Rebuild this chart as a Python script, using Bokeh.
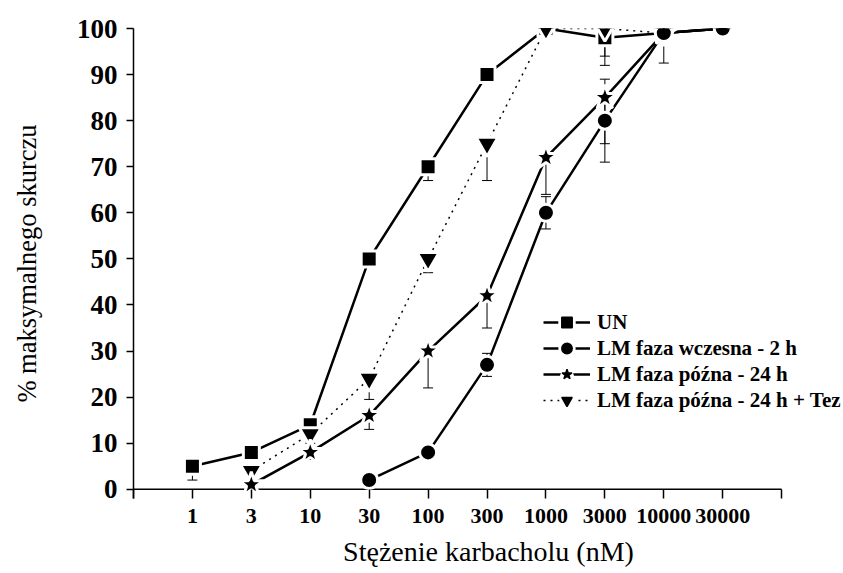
import math
from bokeh.plotting import figure
from bokeh.models import (Range1d, FixedTicker, Whisker, TeeHead, ColumnDataSource,
                          Legend, LegendItem)
from bokeh.embed import file_html
from bokeh.resources import INLINE

NAN = float("nan")

# ---- data ----
categories = ["1", "3", "10", "30", "100", "300", "1000", "3000", "10000", "30000"]
un_vals     = [5, 8, 14, 50, 70, 90, 100, 98, 99, 100]
un_err      = [3, 0, 0, 0, 3, 0, 0, 6, 0, 0]
early_vals  = [NAN, NAN, NAN, 2, 8, 27, 60, 80, 99, 100]
early_err   = [0, 0, 0, 0, 1, 2.5, 3.5, 9, 6.5, 0]
late_vals   = [NAN, 1, 8, 16, 30, 42, 72, 85, 99, 100]
late_err    = [0, 0, 1.5, 3, 8, 7, 8, 10, 0, 0]
tez_vals    = [NAN, 4, 12, 24, 50, 75, 100, 100, 99, 100]
tez_err     = [0, 0, 2, 4.5, 3, 8, 0, 6, 0, 0]
y_ticks = list(range(0, 101, 10))
series_names = ["UN", "LM faza wczesna - 2 h", "LM faza późna - 24 h", "LM faza późna - 24 h + Tez"]

FONT = "Liberation Serif"
n_pos = len(categories) + 1   # last axis position

p = figure(width=843, height=573, output_backend="svg", toolbar_location=None,
           x_range=Range1d(0, 12.05), y_range=Range1d(-2, 100),
           min_border_left=133, min_border_right=0, min_border_top=28, min_border_bottom=75)
p.outline_line_color = None
p.xgrid.visible = False
p.ygrid.visible = False
p.background_fill_color = "white"
p.border_fill_color = "white"

# x axis
xa = p.xaxis[0]
xa.ticker = FixedTicker(ticks=list(range(0, n_pos + 1)))
overrides = {0: "", n_pos: ""}
for i, c in enumerate(categories):
    overrides[i + 1] = c
xa.major_label_overrides = overrides
xa.axis_line_alpha = 0
xa.major_tick_in = 9
xa.major_tick_out = 0
xa.major_tick_line_width = 1.5
xa.major_tick_line_color = "black"
xa.minor_tick_line_color = None
xa.major_label_text_font = FONT
xa.major_label_text_font_style = "bold"
xa.major_label_text_font_size = "22px"
xa.major_label_text_color = "black"
xa.major_label_standoff = 10
xa.axis_label = "Stężenie karbacholu (nM)"
xa.axis_label_text_font = FONT
xa.axis_label_text_font_style = "normal"
xa.axis_label_text_font_size = "28px"
xa.axis_label_text_color = "black"
xa.axis_label_standoff = 10

# y axis
ya = p.yaxis[0]
ya.ticker = FixedTicker(ticks=y_ticks)
ya.axis_line_width = 1.5
ya.axis_line_color = "black"
ya.major_tick_in = 0
ya.major_tick_out = 7
ya.major_tick_line_width = 1.5
ya.major_tick_line_color = "black"
ya.minor_tick_line_color = None
ya.major_label_text_font = FONT
ya.major_label_text_font_style = "bold"
ya.major_label_text_font_size = "27px"
ya.major_label_text_color = "black"
ya.major_label_standoff = 9
ya.axis_label = "% maksymalnego skurczu"
ya.axis_label_text_font = FONT
ya.axis_label_text_font_style = "normal"
ya.axis_label_text_font_size = "26.5px"
ya.axis_label_text_color = "black"
ya.axis_label_standoff = 32


def build(vals, errs, symmetric):
    xs, ys, lo, hi = [], [], [], []
    for i, (v, e) in enumerate(zip(vals, errs)):
        if isinstance(v, float) and math.isnan(v):
            continue
        xs.append(i + 1)
        ys.append(v)
        lo.append(v - e)
        hi.append(v + e if symmetric else v)
    return ColumnDataSource(dict(x=xs, y=ys, lo=lo, hi=hi))


specs = [
    (series_names[0], un_vals, un_err, False, "square", 16, "solid", 2.5),
    (series_names[3], tez_vals, tez_err, False, "inverted_triangle", 22, "2 5", 1.5),
    (series_names[2], late_vals, late_err, False, "star", 26, "solid", 2.5),
    (series_names[1], early_vals, early_err, True, "circle", 17, "solid", 2.5),
]

srcs = {name: build(vals, errs, sym) for name, vals, errs, sym, *_ in specs}

# legend-only glyphs (drawn first with size 0, hidden under the real marks):
# white halo + black marker, so the legend shows "—■—" with gaps
legend_parts = {}
for name, vals, errs, sym, mk, sz, dash, lw in specs:
    halo = p.scatter("x", "y", source=srcs[name], marker=mk, size=0, fill_color="white",
                     line_color="white", line_width=7)
    blk = p.scatter("x", "y", source=srcs[name], marker=mk, size=0, fill_color="black",
                    line_color="black", line_width=1.5)
    legend_parts[name] = [halo, blk]

# x axis line drawn at y = 0 (frame extends slightly below 0)
p.segment(x0=[0], y0=[0], x1=[n_pos], y1=[0], line_color="black", line_width=1.5)

lines = {}
for name, vals, errs, sym, mk, sz, dash, lw in specs:
    src = srcs[name]
    lines[name] = p.line("x", "y", source=src, line_color="black", line_width=lw, line_dash=dash)
    w = Whisker(base="x", lower="lo", upper="hi", source=src, dimension="height",
                line_color="black", line_width=1,
                lower_head=TeeHead(size=10, line_width=1, line_color="black"),
                upper_head=(TeeHead(size=10, line_width=1, line_color="black") if sym else None))
    p.add_layout(w)

for name, vals, errs, sym, mk, sz, dash, lw in specs:
    p.scatter("x", "y", source=srcs[name], marker=mk, size=sz, fill_color="black",
              line_color="white", line_width=3)

items = [LegendItem(label=n, renderers=[lines[n]] + legend_parts[n]) for n in series_names]
legend = Legend(items=items, location=(410, 85), padding=0, margin=0, spacing=0,
                border_line_color=None, background_fill_alpha=0,
                glyph_width=47, glyph_height=26, label_height=26, label_standoff=7,
                label_text_font=FONT, label_text_font_style="bold",
                label_text_font_size="21px", label_text_color="black")
p.add_layout(legend)

open("out.html", "w").write(file_html(p, INLINE))
